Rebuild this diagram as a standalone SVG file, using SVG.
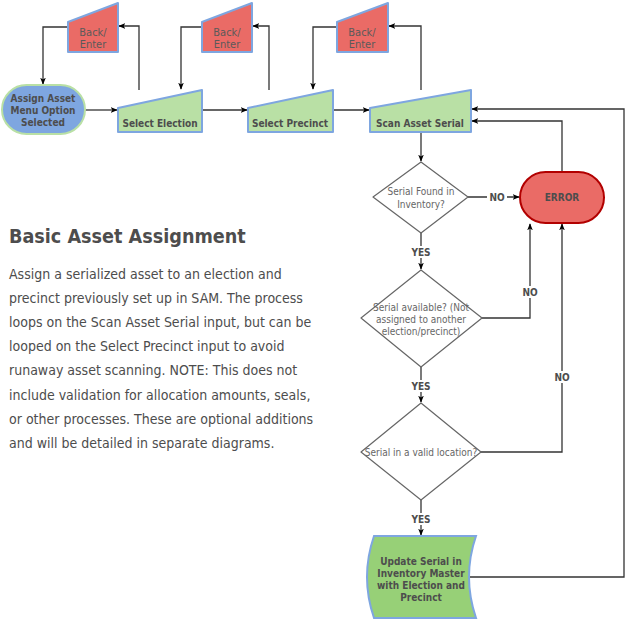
<svg xmlns="http://www.w3.org/2000/svg" width="632" height="620" viewBox="0 0 632 620">
<style>
.lbl{font-family:"DejaVu Sans Condensed","DejaVu Sans",sans-serif;font-size:10px;fill:#4D4D4D;text-anchor:middle;font-weight:bold}
.be{font-family:"DejaVu Sans Condensed","DejaVu Sans",sans-serif;font-size:11px;fill:#5a5a5a;text-anchor:middle}
.dt{font-family:"DejaVu Sans Condensed","DejaVu Sans",sans-serif;font-size:10px;fill:#666;text-anchor:middle}
.el{font-family:"DejaVu Sans Condensed","DejaVu Sans",sans-serif;font-size:10px;fill:#4D4D4D;text-anchor:middle;font-weight:bold}
.body{font-family:"DejaVu Sans Condensed","DejaVu Sans",sans-serif;font-size:14px;fill:#4D4D4D}
.ttl{font-family:"DejaVu Sans Condensed","DejaVu Sans",sans-serif;font-size:19.6px;fill:#4D4D4D;font-weight:bold}
.red{fill:#EA6B66;stroke:#7EA6E0;stroke-width:2;stroke-linejoin:round}
.grn{fill:#B9E0A5;stroke:#7EA6E0;stroke-width:2;stroke-linejoin:round}
.dia{fill:#fff;stroke:#666;stroke-width:1.2;stroke-linejoin:round}
.con{fill:none;stroke:#333;stroke-width:1.3}
</style>
<defs>
<marker id="arr" viewBox="0 0 10 10" refX="9" refY="5" markerWidth="7" markerHeight="7" orient="auto" markerUnits="userSpaceOnUse">
<path d="M0,1 L10,5 L0,9 L2.5,5 Z" fill="#000"/>
</marker>
</defs>
<rect width="632" height="620" fill="#fff"/>

<g id="connectors">
<path class="con" d="M68,27 H43 V84" marker-end="url(#arr)"/>
<path class="con" d="M139,90 V26 H119" marker-end="url(#arr)"/>
<path class="con" d="M202,27 H181 V89" marker-end="url(#arr)"/>
<path class="con" d="M269,90 V26 H253" marker-end="url(#arr)"/>
<path class="con" d="M337,27 H313 V89" marker-end="url(#arr)"/>
<path class="con" d="M421,90 V26 H389" marker-end="url(#arr)"/>
<path class="con" d="M85,110 H117" marker-end="url(#arr)"/>
<path class="con" d="M202,110 H247" marker-end="url(#arr)"/>
<path class="con" d="M333,110 H369" marker-end="url(#arr)"/>
<path class="con" d="M421,132 V161" marker-end="url(#arr)"/>
<path class="con" d="M468,197 H519" marker-end="url(#arr)"/>
<path class="con" d="M421,233 V269" marker-end="url(#arr)"/>
<path class="con" d="M482,318 H530 V224" marker-end="url(#arr)"/>
<path class="con" d="M421,367 V402" marker-end="url(#arr)"/>
<path class="con" d="M481,452 H562 V224" marker-end="url(#arr)"/>
<path class="con" d="M421,500 V535" marker-end="url(#arr)"/>
<path class="con" d="M562,172 V121 H472" marker-end="url(#arr)"/>
<path class="con" d="M469,577 H624 V109 H472" marker-end="url(#arr)"/>
<rect x="487" y="191" width="20" height="12" fill="#fff"/>
<text class="el" x="497" y="201">NO</text>
<rect x="409" y="246" width="24" height="12" fill="#fff"/>
<text class="el" x="421" y="256">YES</text>
<rect x="519" y="286" width="22" height="12" fill="#fff"/>
<text class="el" x="530" y="296">NO</text>
<rect x="409" y="380" width="24" height="12" fill="#fff"/>
<text class="el" x="421" y="390">YES</text>
<rect x="551" y="371" width="22" height="12" fill="#fff"/>
<text class="el" x="562" y="381">NO</text>
<rect x="409" y="513" width="24" height="12" fill="#fff"/>
<text class="el" x="421" y="523">YES</text>
</g>

<g id="start">
<rect x="2" y="85" width="83" height="49" rx="24.5" fill="#7EA6E0" stroke="#B9E0A5" stroke-width="2"/>
<text class="lbl" x="43" y="102">Assign Asset</text>
<text class="lbl" x="43" y="114">Menu Option</text>
<text class="lbl" x="43" y="126">Selected</text>
</g>

<g id="back1">
<polygon class="red" points="68,22 118,3 118,52 68,52"/>
<text class="be" x="93" y="36">Back/</text>
<text class="be" x="93" y="48">Enter</text>
</g>
<g id="back2">
<polygon class="red" points="202,22 252,3 252,52 202,52"/>
<text class="be" x="227" y="36">Back/</text>
<text class="be" x="227" y="48">Enter</text>
</g>
<g id="back3">
<polygon class="red" points="337,22 388,3 388,52 337,52"/>
<text class="be" x="362" y="36">Back/</text>
<text class="be" x="362" y="48">Enter</text>
</g>

<g id="select-election">
<polygon class="grn" points="118,108 202,90 202,132 118,132"/>
<text class="lbl" x="160" y="127">Select Election</text>
</g>
<g id="select-precinct">
<polygon class="grn" points="248,108 333,90 333,132 248,132"/>
<text class="lbl" x="290" y="127">Select Precinct</text>
</g>
<g id="scan-serial">
<polygon class="grn" points="370,108 471,90 471,132 370,132"/>
<text class="lbl" x="420" y="127">Scan Asset Serial</text>
</g>

<g id="d-found">
<polygon class="dia" points="421,162 468,197 421,233 373,197"/>
<text class="dt" x="421" y="195">Serial Found in</text>
<text class="dt" x="421" y="208">Inventory?</text>
</g>

<g id="error">
<rect x="520" y="172" width="84" height="51" rx="25.5" fill="#EA6B66" stroke="#B20000" stroke-width="2"/>
<text class="lbl" x="562" y="201" font-size="11">ERROR</text>
</g>

<g id="d-available">
<polygon class="dia" points="421,270 482,318 421,367 361,318"/>
<text class="dt" x="421" y="311">Serial available? (Not</text>
<text class="dt" x="421" y="323">assigned to another</text>
<text class="dt" x="421" y="335">election/precinct)</text>
</g>

<g id="d-location">
<polygon class="dia" points="421,403 481,452 421,500 361,452"/>
<text class="dt" x="421" y="456">Serial in a valid location?</text>
</g>

<g id="update">
<path d="M374,536 H476 Q462,577 476,618 H374 Q360,577 374,536 Z" fill="#97D077" stroke="#7EA6E0" stroke-width="2"/>
<text class="lbl" x="421" y="565">Update Serial in</text>
<text class="lbl" x="421" y="577">Inventory Master</text>
<text class="lbl" x="421" y="589">with Election and</text>
<text class="lbl" x="421" y="601">Precinct</text>
</g>

<g id="description">
<text class="ttl" x="9" y="243">Basic Asset Assignment</text>
<text class="body" x="9" y="279">Assign a serialized asset to an election and</text>
<text class="body" x="9" y="303">precinct previously set up in SAM. The process</text>
<text class="body" x="9" y="327">loops on the Scan Asset Serial input, but can be</text>
<text class="body" x="9" y="351">looped on the Select Precinct input to avoid</text>
<text class="body" x="9" y="375">runaway asset scanning. NOTE: This does not</text>
<text class="body" x="9" y="400">include validation for allocation amounts, seals,</text>
<text class="body" x="9" y="424">or other processes. These are optional additions</text>
<text class="body" x="9" y="448">and will be detailed in separate diagrams.</text>
</g>
</svg>
